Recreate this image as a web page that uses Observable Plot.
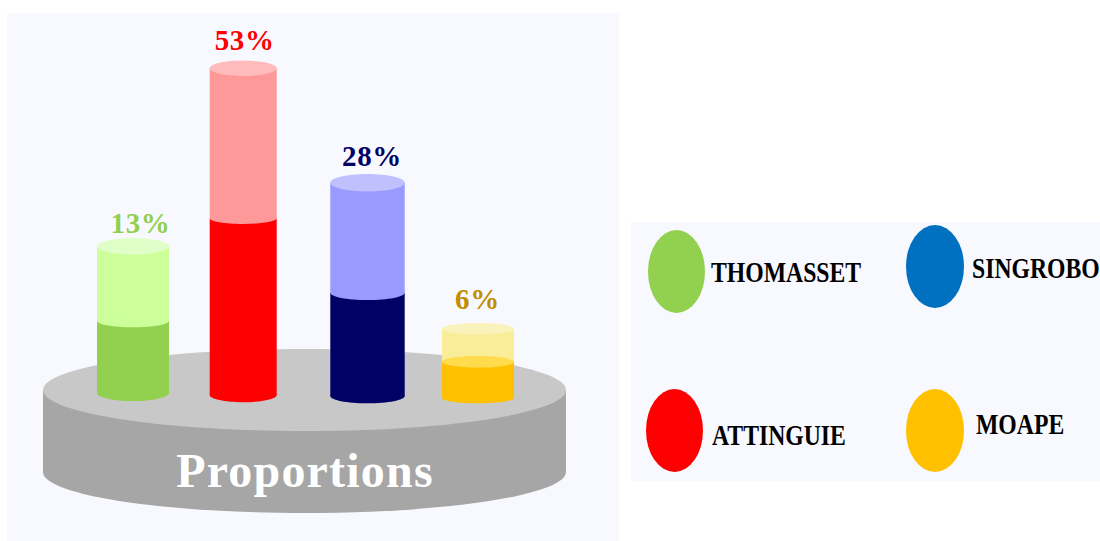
<!DOCTYPE html>
<html>
<head>
<meta charset="utf-8">
<script src="https://cdn.jsdelivr.net/npm/d3@7"></script>
<script src="https://cdn.jsdelivr.net/npm/@observablehq/plot@0.6"></script>
<style>
  html, body { margin: 0; padding: 0; background: #fff; }
  #page { position: relative; width: 1100px; height: 541px; overflow: hidden; font-family: "Liberation Serif", serif; }
  #chart { position: absolute; left: 7px; top: 13px; }
  #chart svg { display: block; }
  #chart .title-text text { letter-spacing: 1.2px; }
  #chart .share-text text { letter-spacing: 0.7px; }
  #legend { position: absolute; left: 631px; top: 222px; width: 469px; height: 259px; background: #f8f9ff; }
  .swatch { position: absolute; border-radius: 50%; }
  .name { position: absolute; font: bold 30px/30px "Liberation Serif", serif; color: #000; transform: scaleX(.79); transform-origin: 0 0; white-space: nowrap; }
</style>
</head>
<body>
<div id="page">
  <div id="chart"></div>
  <div id="legend"></div>
</div>
<script>
// Data
const cylinderNames = ["THOMASSET", "ATTINGUIE", "SINGROBO", "MOAPE"];
const shares = [13, 53, 28, 6];
const fillLevels = [6.68, 19.6, 9.06, 3.0];
const floorLevels = [0.21, 0, -0.13, -0.35];
const baseTitle = "Proportions";

const legendNames = ["THOMASSET", "SINGROBO", "ATTINGUIE", "MOAPE"];
const legendColors = ["#92d050", "#0070c0", "#ff0000", "#ffc000"];

// Styles
const solidColors = ["#92d050", "#ff0000", "#000066", "#ffc000"];
const glassColors = ["#ccff99", "#ff9999", "#9999ff", "#f9ed9a"];
const capColors = ["#e0ffc8", "#ffbbbb", "#c0c0ff", "#faf2bb"];
const seamColors = ["#ccff99", "#ff9999", "#9999ff", "#ffdb4d"];
const labelColors = ["#92d050", "#ff0000", "#000066", "#bf8f00"];

// Geometry of the drawing (pixels), separate from the data
const halfWidths = [36, 33.5, 37.2, 36];
const capHalfHeights = [8.3, 7.7, 8.7, 5.7];
const seamHalfHeights = [6.6, 5.7, 7.3, 5.8];
const footHalfHeights = [8.3, 7.2, 7.3, 5.6];
const labelDx = [7, 1, 4, -1];
const labelDy = [-13.6, -19.3, -17.7, -20.2];
const legendLayout = [
  {cx: 45.7, cy: 49.3, rx: 28.5, tx: 80, base: 57.7},
  {cx: 303.75, cy: 44.7, rx: 29, tx: 341, base: 54.3},
  {cx: 43.8, cy: 208, rx: 28.5, tx: 81, base: 221.2},
  {cx: 303.75, cy: 208, rx: 29, tx: 345, base: 209.8}
];

// An ellipse usable as a Plot dot symbol: r is the horizontal radius
function ellipseSymbol(ratio) {
  const k = 0.5522847;
  return {
    draw(ctx, size) {
      const a = Math.sqrt(size / Math.PI), b = a * ratio;
      ctx.moveTo(a, 0);
      ctx.bezierCurveTo(a, k * b, k * a, b, 0, b);
      ctx.bezierCurveTo(-k * a, b, -a, k * b, -a, 0);
      ctx.bezierCurveTo(-a, -k * b, -k * a, -b, 0, -b);
      ctx.bezierCurveTo(k * a, -b, a, -k * b, a, 0);
      ctx.closePath();
    }
  };
}
const disc = (x, y, rx, ry, fill) =>
  Plot.dot([0], {x: () => x, y: () => y, r: rx, symbol: ellipseSymbol(ry / rx), fill, stroke: "none", dx: -0.5, dy: -0.5});
const column = (x, y1, y2, rx, stroke) =>
  Plot.ruleX([0], {x: () => x, y1: () => y1, y2: () => y2, stroke, strokeWidth: rx * 2, dx: -0.5});

const baseX = 1.493, baseRx = 261.5, baseRy = 41, baseTop = 0.45, baseBottom = -10;

const marks = [
  disc(baseX, baseBottom, baseRx, baseRy, "#a6a6a6"),
  column(baseX, baseBottom, baseTop, baseRx, "#a6a6a6"),
  disc(baseX, baseTop, baseRx, baseRy, "#c8c8c8"),
  Plot.text([baseTitle], {
    x: () => baseX, y: () => baseBottom, text: d => d, dy: 14, lineAnchor: "bottom", className: "title-text",
    fill: "#fff", fontSize: 48, fontWeight: "bold", fontFamily: "Liberation Serif"
  })
];

shares.forEach((share, i) => {
  const rx = halfWidths[i], fill = fillLevels[i], floor = floorLevels[i];
  marks.push(
    disc(i, floor, rx, footHalfHeights[i], solidColors[i]),
    column(i, floor, fill, rx, solidColors[i]),
    column(i, fill, share, rx, glassColors[i]),
    disc(i, fill, rx, seamHalfHeights[i], seamColors[i]),
    disc(i, share, rx, capHalfHeights[i], capColors[i]),
    Plot.text([share + "%"], {
      x: () => i, y: () => share, text: d => d, dx: labelDx[i], dy: labelDy[i], lineAnchor: "bottom", className: "share-text",
      fill: labelColors[i], fontSize: 29, fontWeight: "bold", fontFamily: "Liberation Serif"
    })
  );
});

const chart = Plot.plot({
  width: 612,
  height: 528,
  margin: 0,
  style: {background: "#f8f9ff", fontFamily: "Liberation Serif"},
  x: {type: "linear", axis: null, domain: [0, 1, 2, 3], range: [126, 236.2, 360.5, 471]},
  y: {type: "linear", axis: null, domain: [-10, 0, 6, 13, 28, 53], range: [459, 382, 315.7, 233.3, 169.7, 55.3]},
  marks
});
document.getElementById("chart").appendChild(chart);

const legend = document.getElementById("legend");
legendNames.forEach((name, i) => {
  const p = legendLayout[i];
  const s = document.createElement("div");
  s.className = "swatch";
  s.style.left = (p.cx - p.rx) + "px";
  s.style.top = (p.cy - 41.5) + "px";
  s.style.width = (p.rx * 2) + "px";
  s.style.height = "83px";
  s.style.background = legendColors[i];
  legend.appendChild(s);
  const t = document.createElement("div");
  t.className = "name";
  t.textContent = name;
  t.style.left = p.tx + "px";
  t.style.top = (p.base - 23) + "px";
  legend.appendChild(t);
});
</script>
</body>
</html>
